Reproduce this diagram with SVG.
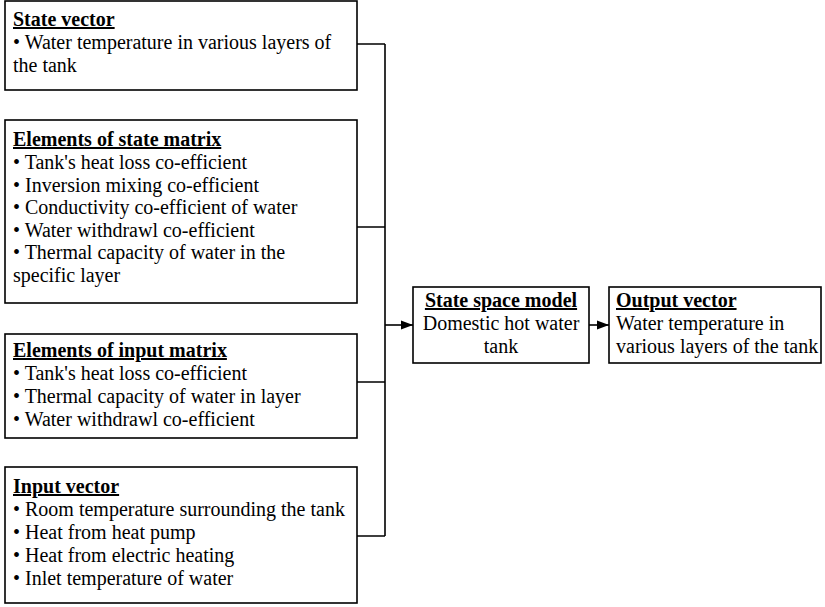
<svg xmlns="http://www.w3.org/2000/svg" width="825" height="607" viewBox="0 0 825 607">
<style>
.box{fill:#fff;stroke:#000;stroke-width:1.6}
text{font-family:"Liberation Serif","Times New Roman",serif;font-size:20px;fill:#000}
.t{font-weight:bold;text-decoration:underline}
.c{text-anchor:middle}
.ln{fill:none;stroke:#000;stroke-width:1.6}
</style>
<defs>
<marker id="ah" viewBox="0 0 12 10" refX="12" refY="5" markerWidth="12" markerHeight="10" markerUnits="userSpaceOnUse" orient="auto">
<path d="M0,0.5 L12,5 L0,9.5 Z" fill="#000"/>
</marker>
</defs>
<g id="connectors">
<path class="ln" d="M357,44 H385 M357,227 H385 M357,382 H385 M357,536 H385 M385,44 V536"/>
<path class="ln" d="M385,325 H413" marker-end="url(#ah)"/>
<path class="ln" d="M589,325 H609" marker-end="url(#ah)"/>
</g>
<g id="state-vector">
<rect class="box" x="5" y="1" width="352" height="89"/>
<text x="13" y="26" class="t">State vector</text>
<text x="13" y="49">• Water temperature in various layers of</text>
<text x="13" y="72">the tank</text>
</g>
<g id="state-matrix">
<rect class="box" x="5" y="120" width="352" height="183"/>
<text x="13" y="146" class="t">Elements of state matrix</text>
<text x="13" y="169">• Tank's heat loss co-efficient</text>
<text x="13" y="191.5">• Inversion mixing co-efficient</text>
<text x="13" y="214">• Conductivity co-efficient of water</text>
<text x="13" y="236.5">• Water withdrawl co-efficient</text>
<text x="13" y="259">• Thermal capacity of water in the</text>
<text x="13" y="281.5">specific layer</text>
</g>
<g id="input-matrix">
<rect class="box" x="5" y="334" width="352" height="104"/>
<text x="13" y="357" class="t">Elements of input matrix</text>
<text x="13" y="380">• Tank's heat loss co-efficient</text>
<text x="13" y="403">• Thermal capacity of water in layer</text>
<text x="13" y="426">• Water withdrawl co-efficient</text>
</g>
<g id="input-vector">
<rect class="box" x="5" y="467" width="352" height="136"/>
<text x="13" y="493" class="t">Input vector</text>
<text x="13" y="516">• Room temperature surrounding the tank</text>
<text x="13" y="539">• Heat from heat pump</text>
<text x="13" y="562">• Heat from electric heating</text>
<text x="13" y="585">• Inlet temperature of water</text>
</g>
<g id="state-space-model">
<rect class="box" x="413" y="287" width="176" height="76"/>
<text x="501" y="307" class="t c">State space model</text>
<text x="501" y="330" class="c">Domestic hot water</text>
<text x="501" y="353" class="c">tank</text>
</g>
<g id="output-vector">
<rect class="box" x="609" y="287" width="212" height="76"/>
<text x="616" y="307" class="t">Output vector</text>
<text x="616" y="330">Water temperature in</text>
<text x="616" y="353">various layers of the tank</text>
</g>
</svg>
